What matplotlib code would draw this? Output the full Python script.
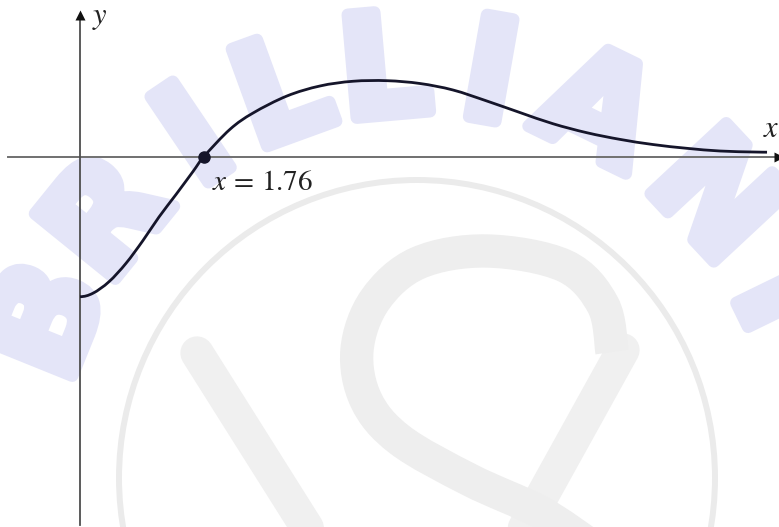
import numpy as np
import matplotlib
matplotlib.use("Agg")
import matplotlib.pyplot as plt
from matplotlib.path import Path
from matplotlib.patches import PathPatch, Circle
import matplotlib.patheffects as pe

plt.rcParams['mathtext.fontset'] = 'stix'

# ---- data (curve samples) ----
curve_x = [0.0, 0.185, 0.412, 0.653, 0.894, 1.121, 1.363, 1.604, 1.760,
           2.129, 2.456, 2.938, 3.407, 3.875, 4.358, 4.826, 5.294, 5.777,
           6.245, 6.714, 7.197, 7.665, 8.133, 8.616, 9.084, 9.553, 9.752]
curve_y = [-1.99, -1.94, -1.777, -1.516, -1.192, -0.859, -0.539, -0.213, 0.0,
           0.386, 0.617, 0.859, 1.001, 1.068, 1.076, 1.036, 0.944, 0.787,
           0.624, 0.465, 0.337, 0.243, 0.170, 0.116, 0.078, 0.064, 0.061]
root_x = 1.76
root_label = r"$x\,=\,1.76$"
x_label = r"$x$"
y_label = r"$y$"
watermark_letters = list("BRILLIANT")
watermark_angles = [158, 141, 124, 110, 95, 80, 64, 43, 26]

W, H = 779, 527
fig = plt.figure(figsize=(W / 100, H / 100), dpi=100)


def smooth(pts, flat_start=False):
    pts = np.asarray(pts, float)
    verts = [pts[0]]
    codes = [Path.MOVETO]
    n = len(pts)
    for i in range(n - 1):
        if i > 0:
            p0 = pts[i - 1]
        elif flat_start:
            p0 = np.array([2 * pts[0][0] - pts[1][0], pts[1][1]])
        else:
            p0 = pts[0]
        p1 = pts[i]
        p2 = pts[i + 1]
        p3 = pts[i + 2] if i + 2 < n else pts[i + 1]
        verts += [p1 + (p2 - p0) / 6.0, p2 - (p3 - p1) / 6.0, p2]
        codes += [Path.CURVE4] * 3
    return Path(np.array(verts), codes)


# ---------- background watermark (pixel coordinates, y down) ----------
bg = fig.add_axes([0, 0, 1, 1])
bg.set_xlim(0, W)
bg.set_ylim(H, 0)
bg.axis('off')

blue = '#e4e5f8'
cx, cy, R = 420, 472, 398
for ch, a in zip(watermark_letters, watermark_angles):
    t = np.deg2rad(a)
    bg.text(cx + R * np.cos(t), cy - R * np.sin(t), ch, fontsize=102,
            fontweight='bold', family='DejaVu Sans', color=blue,
            rotation=a - 90, rotation_mode='anchor', ha='center', va='center',
            path_effects=[pe.withStroke(linewidth=9, foreground=blue)], zorder=1)

gray = '#eeeeee'
bg.add_patch(Circle((417, 478), 298, fill=False, ec='#ebebeb', lw=4.3, zorder=2))
bg.plot([197, 318], [353, 545], color='#f0f0f0', lw=24, solid_capstyle='round', zorder=2)
bg.plot([623, 515], [350, 545], color='#f0f0f0', lw=24, solid_capstyle='round', zorder=2)
loop = [(612, 352), (603, 305), (565, 266), (487, 251), (418, 263),
        (375, 300), (357, 350), (366, 400), (400, 440), (470, 480),
        (540, 512), (590, 545)]
bg.add_patch(PathPatch(smooth(loop), fill=False, ec=gray, lw=24,
                       capstyle='butt', zorder=2))

# ---------- main chart ----------
ax = fig.add_axes([0, 0, 1, 1])
ax.patch.set_alpha(0)
scale = 70.45
ox, oy = 80, 156.5
ax.set_xlim(-ox / scale, (W - ox) / scale)
ax.set_ylim(-(H - oy) / scale, oy / scale)
ax.axis('off')


def px2x(p):
    return (p - ox) / scale


def px2y(p):
    return (oy - p) / scale


# axes lines
ax.plot([px2x(8), px2x(776)], [0, 0], color='#707070', lw=1.4, zorder=3)
ax.plot([0, 0], [px2y(525), px2y(18)], color='#4e4e4e', lw=1.3, zorder=3)
ax.plot([0], [px2y(15)], marker='^', ms=7.6, color='#111111', mec='none', zorder=4)
ax.plot([px2x(779)], [0], marker='>', ms=7.6, color='#111111', mec='none', zorder=4)

# curve
pts = np.column_stack([curve_x, curve_y])
ax.add_patch(PathPatch(smooth(pts, flat_start=True), fill=False, ec='#15152a',
                       lw=2.0, capstyle='butt', zorder=5))
ax.plot([root_x], [0], 'o', ms=8, color='#15152a', zorder=6)

# labels
ax.text(px2x(92), px2y(24), y_label, fontsize=22, color='#222222',
        ha='left', va='baseline', zorder=6)
ax.text(px2x(763), px2y(137), x_label, fontsize=22, color='#222222',
        ha='left', va='baseline', zorder=6)
ax.text(px2x(212), px2y(190), root_label, fontsize=21, color='#222222',
        ha='left', va='baseline', zorder=6)

fig.savefig('out.png', dpi=100, facecolor='white')
